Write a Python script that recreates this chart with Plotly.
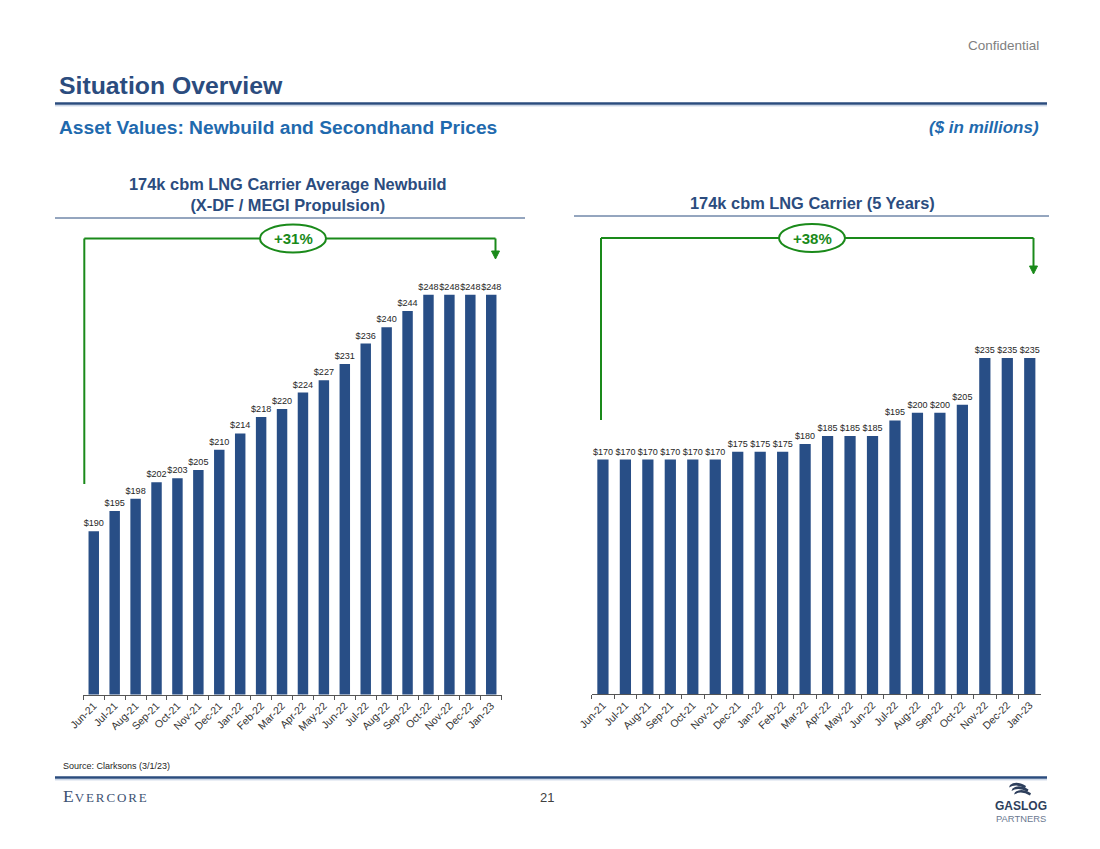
import plotly.graph_objects as go

W, H = 1100, 849

months = ["Jun-21", "Jul-21", "Aug-21", "Sep-21", "Oct-21", "Nov-21", "Dec-21",
          "Jan-22", "Feb-22", "Mar-22", "Apr-22", "May-22", "Jun-22", "Jul-22",
          "Aug-22", "Sep-22", "Oct-22", "Nov-22", "Dec-22", "Jan-23"]
newbuild = [190, 195, 198, 202, 203, 205, 210, 214, 218, 220, 224, 227, 231, 236,
            240, 244, 248, 248, 248, 248]
secondhand = [170, 170, 170, 170, 170, 170, 175, 175, 175, 180, 185, 185, 185, 195,
              200, 200, 205, 235, 235, 235]

newbuild_change = "+31%"
secondhand_change = "+38%"

NAVY = "#2B4C7E"
BAR = "#284E86"
BLUE2 = "#1F6AAE"
GREEN = "#1A8A1A"
FONT = "Arial, Liberation Sans, sans-serif"


def px(x):
    return x / W


def py(y):
    return 1 - y / H


fig = go.Figure()

fig.add_trace(go.Bar(
    x=months, y=newbuild, xaxis="x", yaxis="y",
    marker=dict(color=BAR, line=dict(width=0)),
    text=[f"${v}" for v in newbuild], textposition="outside",
    textfont=dict(family=FONT, size=9.1, color="#262626"),
    constraintext="none", cliponaxis=False, textangle=0,
    hoverinfo="skip", showlegend=False,
))
fig.add_trace(go.Bar(
    x=months, y=secondhand, xaxis="x2", yaxis="y2",
    marker=dict(color=BAR, line=dict(width=0)),
    text=[f"${v}" for v in secondhand], textposition="outside",
    textfont=dict(family=FONT, size=9, color="#262626"),
    constraintext="none", cliponaxis=False, textangle=0,
    hoverinfo="skip", showlegend=False,
))

xax = dict(type="category", showgrid=False, zeroline=False, showline=True,
           linecolor="#555555", linewidth=1.2, ticks="outside", tickson="boundaries",
           ticklen=4, tickcolor="#555555", tickangle=-45, automargin=False,
           tickfont=dict(family=FONT, size=10.5, color="#333333"), fixedrange=True)
yax = dict(visible=False, showgrid=False, zeroline=False, fixedrange=True, automargin=False)

lb, lt = 694.5, 244
rb, rt = 694, 244
fig.update_layout(
    width=W, height=H,
    margin=dict(l=0, r=0, t=0, b=0, pad=0, autoexpand=False),
    paper_bgcolor="white", plot_bgcolor="white",
    bargap=0.5,
    xaxis=dict(xax, domain=[px(83.3), px(501.7)], anchor="y"),
    yaxis=dict(yax, domain=[py(lb), py(lt)], range=[150, 150 + (lb - lt) / 4.08]),
    xaxis2=dict(xax, domain=[px(591.7), px(1041)], anchor="y2"),
    yaxis2=dict(yax, domain=[py(rb), py(rt)], range=[20, 20 + (rb - rt) / 1.563]),
    font=dict(family=FONT),
)

shapes = []
annots = []


def hline(x0, x1, y, color, width):
    shapes.append(dict(type="line", xref="paper", yref="paper", x0=px(x0), x1=px(x1),
                       y0=py(y), y1=py(y), line=dict(color=color, width=width)))


def vline(x, y0, y1, color, width):
    shapes.append(dict(type="line", xref="paper", yref="paper", x0=px(x), x1=px(x),
                       y0=py(y0), y1=py(y1), line=dict(color=color, width=width)))


def text(x, y, s, size, color, xanchor="left", bold=False, italic=False, family=FONT):
    if bold:
        s = f"<b>{s}</b>"
    if italic:
        s = f"<i>{s}</i>"
    annots.append(dict(xref="paper", yref="paper", x=px(x), y=py(y), text=s,
                       showarrow=False, xanchor=xanchor, yanchor="middle",
                       font=dict(family=family, size=size, color=color)))


# header
text(1041, 45, "Confidential", 13.5, "#7F7F7F", xanchor="right")
text(57, 85, "Situation Overview", 24.8, NAVY, bold=True)
hline(55, 1047, 103.5, NAVY, 2.5)
hline(55, 1047, 105.8, "#B7C7DD", 1)
text(57, 127.5, "Asset Values: Newbuild and Secondhand Prices", 19.2, BLUE2, bold=True)
text(1041, 127.5, "($ in millions)", 17, BLUE2, xanchor="right", bold=True, italic=True)

# chart titles
annots.append(dict(xref="paper", yref="paper", x=px(288), y=py(195),
                   text="<b>174k cbm LNG Carrier Average Newbuild<br>(X-DF / MEGI Propulsion)</b>",
                   showarrow=False, xanchor="center", yanchor="middle", align="center",
                   font=dict(family=FONT, size=16.4, color=NAVY)))
hline(55, 525, 218, NAVY, 1)
text(812, 203, "174k cbm LNG Carrier (5 Years)", 16.4, NAVY, xanchor="center", bold=True)
hline(574, 1049, 216, NAVY, 1)


def bracket(xl, xr, ytop, yleft, yarrow, cx, label):
    vline(xl, yleft, ytop, GREEN, 2)
    hline(xl, xr, ytop, GREEN, 2)
    vline(xr, ytop, yarrow - 6, GREEN, 2)
    shapes.append(dict(type="path", xref="paper", yref="paper",
                       path=f"M {px(xr-4)} {py(yarrow-8)} L {px(xr+4)} {py(yarrow-8)} L {px(xr)} {py(yarrow)} Z",
                       fillcolor=GREEN, line=dict(color=GREEN, width=1)))
    shapes.append(dict(type="circle", xref="paper", yref="paper",
                       x0=px(cx - 33), x1=px(cx + 33), y0=py(ytop + 14), y1=py(ytop - 14),
                       fillcolor="white", line=dict(color=GREEN, width=2)))
    text(cx, ytop, label, 15, GREEN, xanchor="center", bold=True)


bracket(84.3, 495.5, 238.5, 484, 259, 293, newbuild_change)
bracket(601, 1033.5, 238, 420, 274, 812, secondhand_change)

# footer
text(61, 766, "Source: Clarksons (3/1/23)", 9, "#262626")
hline(55, 1047, 777.5, NAVY, 2.5)
hline(55, 1047, 779.8, "#B7C7DD", 1)
annots.append(dict(xref="paper", yref="paper", x=px(61), y=py(795.5),
                   text=("<span style='font-size:17.5px;letter-spacing:1px'>E</span>"
                         "<span style='letter-spacing:1.9px'>VERCORE</span>"),
                   showarrow=False, xanchor="left", yanchor="middle",
                   font=dict(family="Liberation Serif, DejaVu Serif, serif", size=13, color="#3D5273")))
text(547, 797, "21", 13, "#404040", xanchor="center")

# GasLog logo (approximation of the stripe icon)
for i in range(3):
    x0 = 1010 + i * 2.5
    y0 = 785 + i * 3.6
    shapes.append(dict(type="path", xref="paper", yref="paper",
                       path=(f"M {px(x0)} {py(y0)} "
                             f"Q {px(x0+6)} {py(y0-5)} {px(x0+16)} {py(y0+1)} "
                             f"L {px(x0+15)} {py(y0+3.2)} "
                             f"Q {px(x0+6)} {py(y0-2)} {px(x0-1)} {py(y0+2.4)} Z"),
                       fillcolor="#2E3F5C", line=dict(width=0)))
text(1021, 806, "<b>GASLOG</b>", 12, "#2E3F5C", xanchor="center")
text(1021, 818.5, "PARTNERS", 9.4, "#6A7890", xanchor="center")

fig.update_layout(shapes=shapes, annotations=annots)

fig.write_html("out.html", include_plotlyjs=True, config={"displayModeBar": False})
